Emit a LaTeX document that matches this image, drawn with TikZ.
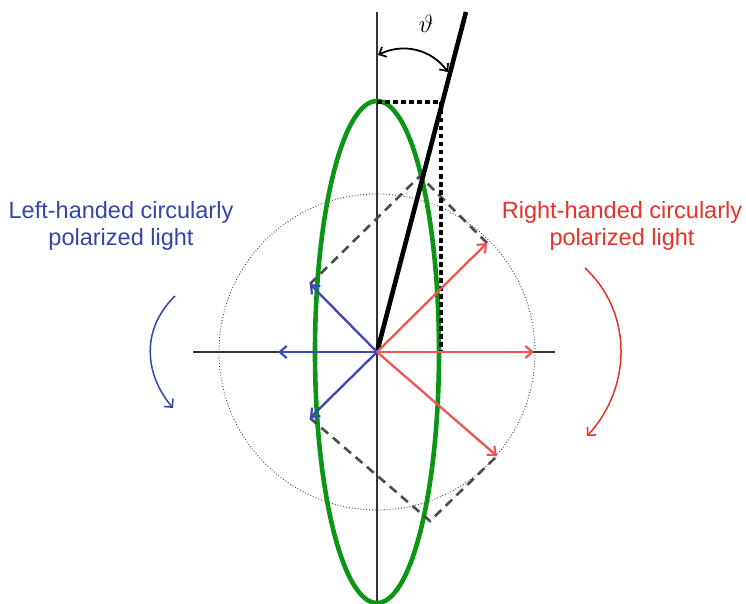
\documentclass[tikz,border=0pt]{standalone}
\usepackage{fontspec}
\setmainfont{Liberation Sans}
\usetikzlibrary{arrows.meta}
\definecolor{lblue}{RGB}{50,70,165}
\definecolor{ared}{RGB}{230,50,40}
\definecolor{vred}{RGB}{240,85,85}
\definecolor{vblue}{RGB}{60,70,185}
\definecolor{egreen}{RGB}{10,150,20}
\tikzset{
  axis/.style={draw=black!80, line width=1.5pt},
  vecb/.style={draw=vblue, line width=2.3pt, -{Straight Barb[length=7pt,width=12pt,line width=2.2pt]}},
  vecr/.style={draw=vred, line width=2.3pt, -{Straight Barb[length=7pt,width=12pt,line width=2.2pt]}},
  dashln/.style={draw=black!70, line width=2.6pt, dash pattern=on 9pt off 6pt},
  rot/.style={line width=1.5pt, -{Straight Barb[length=6pt,width=12pt,line width=1.5pt]}},
  lbl/.style={font=\fontsize{23.5}{27}\selectfont, align=center, inner sep=0pt}
}
\begin{document}
\begin{tikzpicture}[x=1pt,y=-1pt]
\useasboundingbox (0,0) rectangle (746,604);
\coordinate (O) at (377,352);
% dotted circle
\draw[black!75, line width=0.9pt, dotted] (O) circle (158);
% axes
\coordinate (vt) at (377,12);
\coordinate (vb) at (377,604);
\coordinate (hl) at (193,352);
\coordinate (hr) at (555,352);
\draw[axis] (vt) -- (vb);
\draw[axis] (hl) -- (hr);
% green ellipse
\draw[egreen, line width=4.6pt] (O) ellipse [x radius=62, y radius=251];
% dashed parallelogram lines
\coordinate (bu) at (310,284);
\coordinate (bd) at (310,418);
\coordinate (ru) at (487,243);
\coordinate (rd) at (497,456);
\coordinate (su) at (420,176);
\coordinate (sd) at (430,521);
\draw[dashln] (bu) -- (su) -- (ru);
\draw[dashln] (bd) -- (sd) -- (rd);
% dotted thick projections
\coordinate (pt) at (377,102);
\coordinate (pc) at (441,102);
\coordinate (pb) at (441,352);
\draw[black, line width=4.6pt, dash pattern=on 4.5pt off 3.5pt] (pt) -- (pc) -- (pb);
% black line
\coordinate (bt) at (466,12);
\draw[black, line width=4.6pt] (O) -- (bt);
% vectors
\coordinate (bl) at (278,352);
\coordinate (rr) at (534,352);
\draw[vecb] (O) -- (bl);
\draw[vecb] (O) -- (bu);
\draw[vecb] (O) -- (bd);
\draw[vecr] (O) -- (rr);
\draw[vecr] (O) -- (ru);
\draw[vecr] (O) -- (rd);
% angle arc
\coordinate (a1) at (448,72);
\coordinate (a2) at (378,55);
\draw[black, line width=1.8pt, {Straight Barb[length=6pt,width=11pt,line width=1.7pt]}-{Straight Barb[length=6pt,width=11pt,line width=1.7pt]}] (a2) to[bend left=40] (a1);
\node (th) at (426,24) {\fontsize{25}{25}\selectfont$\vartheta$};
% rotation arrows
\coordinate (l1) at (175,296);
\coordinate (l2) at (173,408);
\draw[rot, lblue] (l1) .. controls (140,330) and (145,375) .. (l2);
\coordinate (r1) at (585,268);
\coordinate (r2) at (587,436);
\draw[rot, ared] (r1) .. controls (635,315) and (630,390) .. (r2);
% labels
\node[lbl, text=lblue] (lt) at (121,226) {Left-handed circularly\\polarized light};
\node[lbl, text=ared] (rt) at (622,226) {Right-handed circularly\\polarized light};
\end{tikzpicture}
\end{document}
